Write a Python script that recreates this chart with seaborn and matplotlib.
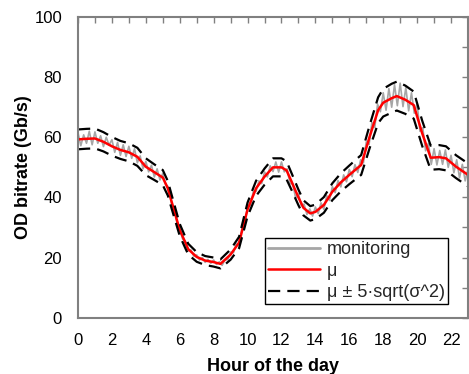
import matplotlib
matplotlib.use("Agg")
import matplotlib.pyplot as plt
import seaborn as sns
import numpy as np

# ---- data ----
hours_mu = [0, 0.5, 1, 1.5, 2, 2.5, 3, 3.5, 4, 4.5, 5, 5.3, 5.5, 6, 6.5, 7, 7.5, 8, 8.4, 9,
            9.5, 10, 10.5, 11, 11.5, 12, 12.3, 12.6, 13, 13.3, 13.7, 14, 14.5, 15, 15.5, 16,
            16.7, 17.2, 17.7, 18, 18.5, 18.8, 19.3, 19.8, 20.3, 20.8, 21.3, 21.7, 22.3, 23]
mu = [59.3, 59.5, 59.6, 58.5, 57.0, 55.8, 55.0, 53.5, 50.2, 48.4, 46.6, 43.0, 39.0, 29.2, 22.8,
      20.2, 19.0, 18.5, 17.9, 21.0, 25.0, 36.0, 43.0, 46.9, 50.0, 50.0, 49.0, 45.2, 40.0, 36.5,
      34.7, 35.2, 37.5, 41.9, 45.0, 47.5, 50.8, 60.2, 69.0, 71.5, 73.0, 73.7, 72.5, 70.7, 61.3,
      53.2, 53.4, 53.0, 50.2, 47.5]
five_sigma = [3.3, 3.3, 3.3, 3.2, 3.1, 3.0, 3.0, 3.0, 2.8, 2.6, 2.5, 2.4, 2.3, 2.0, 1.8,
              1.6, 1.5, 1.5, 1.5, 1.7, 1.9, 2.3, 2.5, 2.7, 3.0, 3.0, 3.0, 2.8, 2.6, 2.5,
              2.4, 2.4, 2.6, 2.8, 3.0, 3.1, 3.3, 3.8, 4.3, 4.6, 4.8, 4.8, 4.7, 4.5, 4.2,
              4.0, 4.0, 4.0, 3.8, 3.8]

# monitoring samples every 10 minutes (hour 0 .. 23)
monitoring = [
    61.5, 57.2, 60.8, 58.0, 62.0, 57.5,
    61.8, 58.0, 60.5, 56.9, 60.0, 57.4,
    59.2, 55.0, 58.3, 54.0, 57.5, 53.6,
    57.0, 53.0, 56.2, 51.5, 53.8, 49.5,
    52.0, 48.5, 50.7, 46.8, 49.5, 45.8,
    48.0, 44.3, 43.5, 38.2, 36.2, 31.6,
    29.8, 26.2, 25.5, 22.2, 22.5, 20.4,
    20.9, 19.2, 20.0, 18.4, 19.4, 18.1,
    19.2, 17.7, 18.6, 17.4, 19.3, 19.3,
    21.8, 21.6, 24.5, 24.2, 29.6, 31.5,
    37.0, 37.4, 41.8, 42.0, 45.5, 44.6,
    48.5, 46.8, 50.5, 48.6, 51.8, 48.4,
    51.8, 48.5, 49.5, 44.6, 44.5, 39.8,
    41.2, 37.2, 37.8, 34.3, 36.2, 33.8,
    36.8, 34.6, 38.2, 36.0, 40.6, 39.0,
    43.6, 41.6, 45.6, 43.5, 47.5, 45.2,
    49.3, 46.9, 50.9, 48.3, 52.5, 51.5,
    58.5, 57.6, 65.0, 63.2, 71.0, 68.5,
    74.8, 69.0, 76.2, 70.0, 77.5, 70.5,
    78.0, 70.2, 76.5, 68.8, 74.8, 68.0,
    71.2, 62.0, 63.2, 55.5, 58.0, 51.0,
    56.2, 50.8, 55.6, 51.0, 55.8, 50.0,
    54.0, 48.2, 52.5, 46.5, 51.0, 45.5,
    49.5]
hours_mon = np.arange(len(monitoring)) / 6.0

x_ticks = list(range(0, 23, 2))
y_ticks = [0, 20, 40, 60, 80, 100]

# ---- plot ----
sns.set_theme(style="white")
plt.rcParams['font.family'] = ['Liberation Sans', 'DejaVu Sans']

fig = plt.figure(figsize=(4.69, 3.74), dpi=100)
ax = fig.add_axes([78 / 469, 1 - 317.7 / 374, 390 / 469, 300.7 / 374])

mu_a = np.array(mu)
s_a = np.array(five_sigma)

sns.lineplot(x=hours_mon, y=monitoring, ax=ax, color="#a6a6a6", lw=1.2,
             estimator=None, sort=False, label="monitoring")
sns.lineplot(x=hours_mu, y=mu, ax=ax, color="#ff0000", lw=1.8,
             estimator=None, sort=False, label="\u03bc")
sns.lineplot(x=hours_mu, y=mu_a + s_a, ax=ax, color="black", lw=1.6,
             estimator=None, sort=False, label="\u03bc \u00b1 5\u00b7sqrt(\u03c3^2)")
sns.lineplot(x=hours_mu, y=mu_a - s_a, ax=ax, color="black", lw=1.6,
             estimator=None, sort=False)
for ln in ax.get_lines()[2:]:
    ln.set_dashes([5.5, 3.2])

ax.set_xlim(0, 23)
ax.set_ylim(0, 100)
ax.set_xticks(x_ticks)
ax.set_xticks(range(1, 24, 2), minor=True)
ax.set_yticks(y_ticks)
ax.set_yticks(range(10, 100, 20), minor=True)
ax.tick_params(which='both', direction='in', top=True, right=True, length=4,
               width=1, color="#808080", labelsize=12, labelcolor="black")
ax.tick_params(axis='x', which='both', pad=11)
ax.tick_params(axis='y', which='both', pad=11.5)
for sp in ax.spines.values():
    sp.set_color("#808080")
    sp.set_linewidth(1.5)

ax.set_xlabel("Hour of the day", fontsize=13, fontweight='bold', labelpad=7, color='black')
ax.set_ylabel("OD bitrate (Gb/s)", fontsize=13, fontweight='bold', labelpad=2, color='black')

handles, labels = ax.get_legend_handles_labels()
leg = ax.legend(handles[:3], labels[:3], loc='lower left', bbox_to_anchor=(0.479, 0.046),
                frameon=True, fancybox=False, edgecolor='black', framealpha=1,
                fontsize=13, handlelength=2.9, handletextpad=0.4, borderpad=0.15,
                labelspacing=0.25, borderaxespad=0)
leg.get_frame().set_linewidth(1.0)
leg.get_lines()[0].set_linewidth(2.0)
leg.get_lines()[2].set_dashes([5.5, 3.2])

fig.savefig("out.png", dpi=100)
